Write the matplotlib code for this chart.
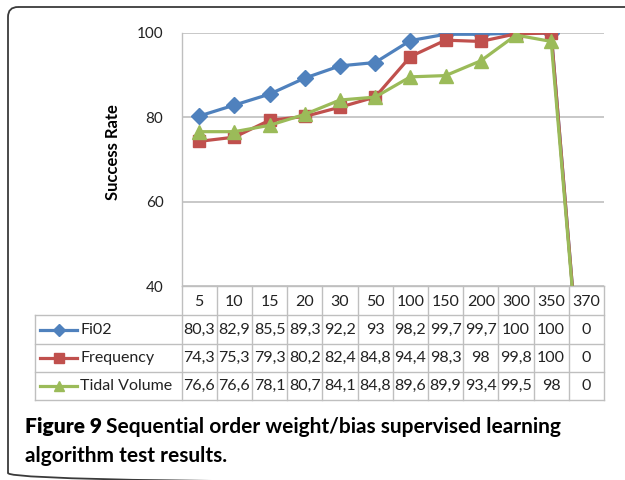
import matplotlib.pyplot as plt
import matplotlib.transforms as mtransforms
from matplotlib.patches import FancyBboxPatch

# data
categories = ['5', '10', '15', '20', '30', '50', '100', '150', '200', '300', '350', '370']
fio2 = [80.3, 82.9, 85.5, 89.3, 92.2, 93, 98.2, 99.7, 99.7, 100, 100, 0]
frequency = [74.3, 75.3, 79.3, 80.2, 82.4, 84.8, 94.4, 98.3, 98, 99.8, 100, 0]
tidal = [76.6, 76.6, 78.1, 80.7, 84.1, 84.8, 89.6, 89.9, 93.4, 99.5, 98, 0]
series_names = ['Fi02', 'Frequency', 'Tidal Volume']
y_ticks = [40, 60, 80, 100]

colors = ['#4F81BD', '#C0504D', '#9BBB59']
markers = ['D', 's', '^']
msizes = [8, 9, 10]
grid_col = '#BFBFBF'

plt.rcParams['font.family'] = ['Lato', 'DejaVu Sans']

W, H = 625, 480
fig = plt.figure(figsize=(W / 100, H / 100), dpi=100)

# overlay in pixel coordinates for frame, table and caption
over = fig.add_axes([0, 0, 1, 1])
over.set_xlim(0, W)
over.set_ylim(H, 0)
over.axis('off')

frame = FancyBboxPatch((8, 7), 660, 476, boxstyle='round,pad=0,rounding_size=10',
                       fc='none', ec='#3a3a3a', lw=1.3)
over.add_patch(frame)

left, right, top, bottom = 181.5, 604, 33, 286
ax = fig.add_axes([left / W, 1 - bottom / H, (right - left) / W, (bottom - top) / H])
x = list(range(len(categories)))
all_series = [fio2, frequency, tidal]
for vals, c, m, ms in zip(all_series, colors, markers, msizes):
    ax.plot(x, vals, color=c, lw=2.3, marker=m, ms=ms, mec=c, mfc=c, zorder=3)

ax.set_xlim(-0.5, len(categories) - 0.5)
ax.set_ylim(40, 100)
ax.set_yticks(y_ticks)
ax.set_xticks([])
ax.tick_params(axis='y', length=0, pad=13, labelsize=11, labelcolor='#222222')
ax.yaxis.grid(True, color=grid_col, lw=1.2)
ax.set_axisbelow(True)
for s in ['top', 'right']:
    ax.spines[s].set_visible(False)
for s in ['left', 'bottom']:
    ax.spines[s].set_color(grid_col)
    ax.spines[s].set_linewidth(1.0)
ax.set_ylabel('Success Rate', fontsize=12, fontweight='bold')
ax.yaxis.set_label_coords(-0.143, 0.53)
ax.patch.set_alpha(0)

# data table under the plot, columns aligned to the axis categories
tr = mtransforms.blended_transform_factory(ax.transData, over.transData)
row_edges = [286, 315, 344, 372, 400]
lab_left = 35
n = len(categories)
for i in range(n + 1):
    over.plot([i - 0.5, i - 0.5], [row_edges[0], row_edges[-1]], color=grid_col, lw=1.0,
              transform=tr, clip_on=False)
for yy in row_edges[1:]:
    over.plot([lab_left, right], [yy, yy], color=grid_col, lw=1.0, clip_on=False)
over.plot([lab_left, lab_left], [row_edges[1], row_edges[-1]], color=grid_col, lw=1.0)

hdr_y = (row_edges[0] + row_edges[1]) / 2 + 1
for i, cat in enumerate(categories):
    over.text(i, hdr_y, cat, transform=tr, ha='center', va='center', fontsize=11.5,
              color='#222222')

for r, (vals, name, c, m, ms) in enumerate(zip(all_series, series_names, colors, markers, msizes)):
    yc = (row_edges[r + 1] + row_edges[r + 2]) / 2
    over.plot([40, 77], [yc, yc], color=c, lw=2.3)
    over.plot([58.5], [yc], marker=m, ms=ms * 0.75, color=c)
    over.text(80, yc, name, ha='left', va='center', fontsize=11.5, color='#222222')
    for i, v in enumerate(vals):
        txt = '{:g}'.format(v).replace('.', ',')
        over.text(i, yc, txt, transform=tr, ha='center', va='center', fontsize=11.5,
                  color='#222222')

# caption
over.text(25, 427, 'Figure 9', fontsize=15, fontweight='heavy', va='center', ha='left')
over.text(106, 427, 'Sequential order weight/bias supervised learning', fontsize=15,
          fontweight='bold', va='center', ha='left')
over.text(25, 456, 'algorithm test results.', fontsize=15, fontweight='bold',
          va='center', ha='left')

fig.savefig('out.png', dpi=100)
